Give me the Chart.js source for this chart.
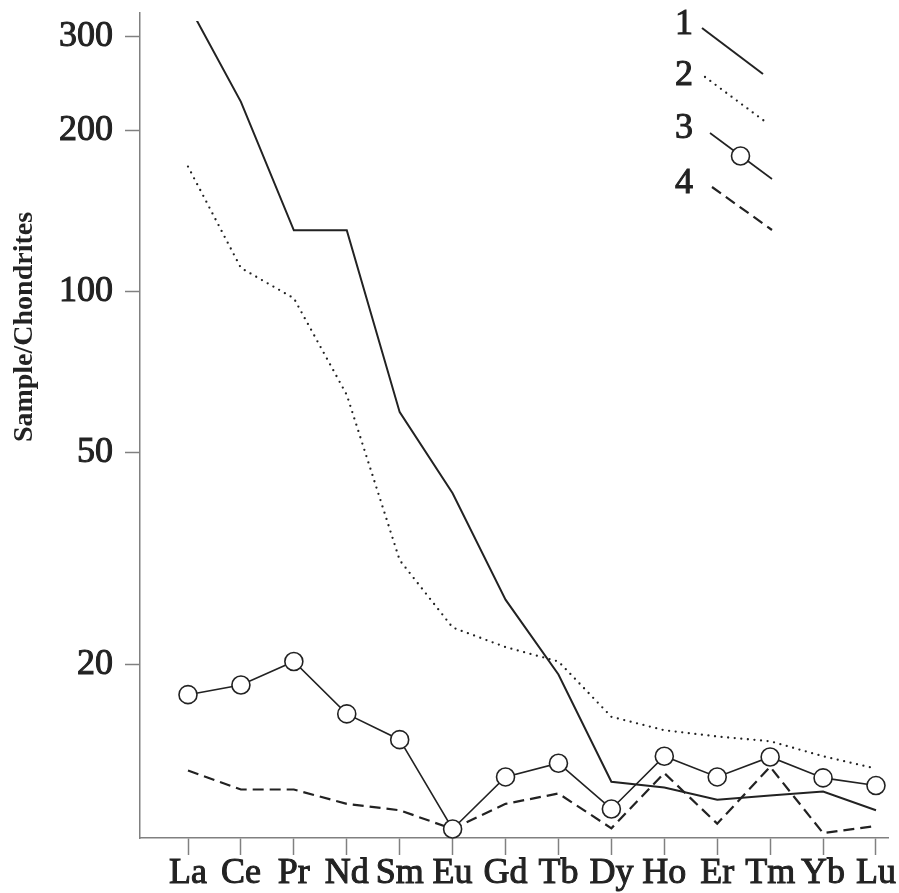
<!DOCTYPE html>
<html>
<head>
<meta charset="utf-8">
<script src="https://cdn.jsdelivr.net/npm/chart.js@4/dist/chart.umd.min.js"></script>
<style>
  html, body { margin: 0; padding: 0; background: #ffffff; }
  canvas { display: block; }
</style>
</head>
<body>
<canvas id="ree" width="899" height="893"></canvas>
<script>
// Rare-earth elements, chondrite-normalised
const elements = ['La', 'Ce', 'Pr', 'Nd', 'Sm', 'Eu', 'Gd', 'Tb', 'Dy', 'Ho', 'Er', 'Tm', 'Yb', 'Lu'];
const series1 = [344, 226, 130, 130, 59.4, 41.9, 26.5, 19.2, 12.1, 11.8, 11.2, 11.4, 11.6, 10.7];
const series2 = [171, 110.5, 97, 64, 31.4, 23.5, 21.6, 20.3, 16.0, 15.1, 14.7, 14.4, 13.5, 12.8];
const series3 = [17.6, 18.35, 20.3, 16.2, 14.5, 9.87, 12.35, 13.1, 10.76, 13.5, 12.35, 13.46, 12.3, 11.9];
const series4 = [12.7, 11.7, 11.7, 11.0, 10.7, 9.87, 11.0, 11.5, 9.9, 12.56, 10.1, 12.9, 9.7, 10.0];
const seriesLabels = ['1', '2', '3', '4'];
const yTickValues = [20, 50, 100, 200, 300];
const yTitle = 'Sample/Chondrites';

const INK = '#222222';
const AXIS = '#808080';
const SERIF = "'Liberation Serif', 'Times New Roman', Times, serif";
const TEXT_STROKE = 1.0;

const toPoints = arr => arr.map((v, i) => ({ x: i, y: v }));

// Vertical axis title, set a little above the middle of the axis
const axisTitlePlugin = {
  id: 'axisTitle',
  afterDraw(chart) {
    const ctx = chart.ctx;
    ctx.save();
    ctx.translate(25, 327);
    ctx.rotate(-Math.PI / 2);
    ctx.font = "bold 28px " + SERIF;
    ctx.fillStyle = INK;
    ctx.textAlign = 'center';
    ctx.textBaseline = 'middle';
    ctx.fillText(yTitle, 0, 0);
    ctx.restore();
  }
};

// Key in the upper right: number followed by a slanted sample of the line
const slantKeyPlugin = {
  id: 'slantKey',
  afterDatasetsDraw(chart) {
    const ctx = chart.ctx;
    const rows = [
      { ny: 25,  x1: 702, y1: 28,  x2: 763, y2: 74 },
      { ny: 76,  x1: 705, y1: 77,  x2: 767, y2: 123 },
      { ny: 129, x1: 710, y1: 133, x2: 772, y2: 179 },
      { ny: 184, x1: 712, y1: 187, x2: 772, y2: 230 }
    ];
    chart.data.datasets.forEach((ds, i) => {
      const r = rows[i];
      ctx.save();
      ctx.font = "36px " + SERIF;
      ctx.fillStyle = INK;
      ctx.strokeStyle = INK;
      ctx.lineWidth = TEXT_STROKE;
      ctx.textAlign = 'right';
      ctx.textBaseline = 'middle';
      ctx.fillText(ds.label, 693, r.ny);
      ctx.strokeText(ds.label, 693, r.ny);
      ctx.strokeStyle = ds.borderColor;
      ctx.lineWidth = ds.borderWidth;
      ctx.lineCap = ds.borderCapStyle || 'butt';
      ctx.setLineDash(ds.borderDash || []);
      ctx.beginPath();
      ctx.moveTo(r.x1, r.y1);
      ctx.lineTo(r.x2, r.y2);
      ctx.stroke();
      if (ds.pointRadius > 0) {
        ctx.setLineDash([]);
        ctx.beginPath();
        ctx.arc((r.x1 + r.x2) / 2 - 0.5, (r.y1 + r.y2) / 2, ds.pointRadius, 0, Math.PI * 2);
        ctx.fillStyle = ds.pointBackgroundColor;
        ctx.fill();
        ctx.lineWidth = ds.pointBorderWidth;
        ctx.strokeStyle = ds.pointBorderColor;
        ctx.stroke();
      }
      ctx.restore();
    });
  }
};

const lineBase = {
  borderColor: INK,
  fill: false,
  tension: 0,
  pointRadius: 0,
  pointHoverRadius: 0
};

function drawChart() {
  new Chart(document.getElementById('ree'), {
    type: 'line',
    data: {
      datasets: [
        Object.assign({}, lineBase, {
          label: seriesLabels[0],
          data: toPoints(series1),
          borderWidth: 2,
          order: 1,
          clip: { left: 10, top: -8, right: 10, bottom: 10 }
        }),
        Object.assign({}, lineBase, {
          label: seriesLabels[1],
          data: toPoints(series2),
          borderWidth: 2.3,
          borderDash: [0, 6.6],
          borderCapStyle: 'round',
          order: 2
        }),
        Object.assign({}, lineBase, {
          label: seriesLabels[2],
          data: toPoints(series3),
          borderWidth: 1.6,
          pointRadius: 9,
          pointHoverRadius: 9,
          pointStyle: 'circle',
          pointBackgroundColor: '#ffffff',
          pointBorderColor: INK,
          pointBorderWidth: 1.6,
          order: 0,
          clip: false
        }),
        Object.assign({}, lineBase, {
          label: seriesLabels[3],
          data: toPoints(series4),
          borderWidth: 2.2,
          borderDash: [11, 6],
          order: 3
        })
      ]
    },
    options: {
      responsive: false,
      animation: false,
      devicePixelRatio: 1,
      layout: { padding: { left: 0, top: 13, right: 11, bottom: 0 } },
      plugins: {
        legend: { display: false },
        tooltip: { enabled: false },
        title: { display: false }
      },
      scales: {
        x: {
          type: 'linear',
          min: -0.907,
          max: 13.227,
          afterFit(scale) {
            scale.height = 55;
            scale.paddingLeft = 0;
            scale.paddingRight = 0;
          },
          afterBuildTicks(scale) {
            scale.ticks = elements.map((_, i) => ({ value: i }));
          },
          grid: {
            drawOnChartArea: false,
            drawTicks: true,
            tickLength: 17,
            tickWidth: 1.5,
            tickColor: AXIS
          },
          border: { display: true, color: AXIS, width: 1.5 },
          ticks: {
            autoSkip: false,
            maxRotation: 0,
            padding: -3,
            color: INK,
            textStrokeColor: INK,
            textStrokeWidth: TEXT_STROKE,
            font: { family: SERIF, size: 36 },
            callback: v => elements[v]
          }
        },
        y: {
          type: 'logarithmic',
          min: 9.495,
          max: 331.3,
          afterFit(scale) {
            scale.width = 140;
            scale.paddingTop = 0;
            scale.paddingBottom = 0;
          },
          afterBuildTicks(scale) {
            scale.ticks = yTickValues.map(v => ({ value: v }));
          },
          grid: {
            drawOnChartArea: false,
            drawTicks: true,
            tickLength: 15,
            tickWidth: 1.5,
            tickColor: AXIS
          },
          border: { display: true, color: AXIS, width: 1.5 },
          ticks: {
            autoSkip: false,
            padding: 12,
            color: INK,
            textStrokeColor: INK,
            textStrokeWidth: TEXT_STROKE,
            font: { family: SERIF, size: 36 },
            callback: v => String(v)
          }
        }
      }
    },
    plugins: [axisTitlePlugin, slantKeyPlugin]
  });
}

// Make sure the serif faces are ready before the canvas text is drawn
const fontReady = document.fonts
  ? Promise.all([
      document.fonts.load("36px 'Liberation Serif'"),
      document.fonts.load("bold 28px 'Liberation Serif'")
    ]).catch(() => null)
  : Promise.resolve();
fontReady.then(drawChart, drawChart);
</script>
</body>
</html>
